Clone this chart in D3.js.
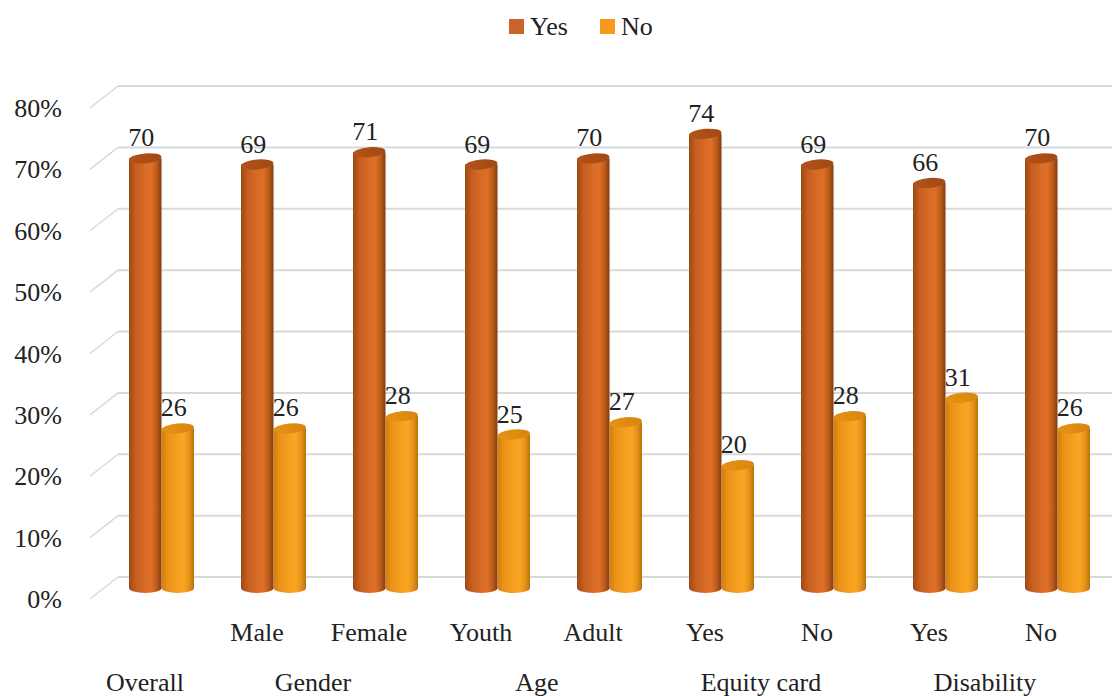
<!DOCTYPE html>
<html><head><meta charset="utf-8">
<script src="https://cdn.jsdelivr.net/npm/d3@7"></script>
<style>body{margin:0;background:#fff}svg{display:block}</style>
</head><body><svg id="c" width="1115" height="696"></svg>
<script>
const categories = ["Overall","Male","Female","Youth","Adult","Yes","No","Yes","No"];
const subLabels = ["","Male","Female","Youth","Adult","Yes","No","Yes","No"];
const groups = [{name:"Overall",from:0,to:0},{name:"Gender",from:1,to:2},{name:"Age",from:3,to:4},{name:"Equity card",from:5,to:6},{name:"Disability",from:7,to:8}];
const yesValues = [70,69,71,69,70,74,69,66,70];
const noValues  = [26,26,28,25,27,20,28,31,26];
const yTicks = [0,10,20,30,40,50,60,70,80];
const series = [{key:"Yes",values:yesValues},{key:"No",values:noValues}];

const svg = d3.select("#c");
const FONT = "'Liberation Serif', serif";
const txtColor = "#222";
const fs = 26;
const depthX = 28, depthY = 22;
const y = d3.scaleLinear().domain([0,80]).range([577,86]); // back wall
const x = d3.scaleBand().domain(d3.range(categories.length)).range([105,1113]);
const xs = d3.scaleBand().domain(["Yes","No"]).range([0,65]);
const defs = svg.append("defs");

function txt(sel){
  sel.attr("font-family","Liberation Serif").attr("font-size",fs).attr("fill",txtColor)
     .style("font-family",FONT).style("font-size",fs+"px").style("fill",txtColor);
}

function grad(id, stops){
  const g = defs.append("linearGradient").attr("id",id).attr("x1","0%").attr("x2","100%").attr("y1","0%").attr("y2","0%");
  stops.forEach(s=>g.append("stop").attr("offset",s[0]).attr("stop-color",s[1]));
}
grad("gYes",[["0%","#9c4814"],["20%","#c45e1f"],["55%","#dc6d27"],["70%","#dd6e28"],["88%","#b65718"],["100%","#7f3a0f"]]);
grad("gNo",[["0%","#d07d10"],["20%","#eb9419"],["55%","#f8a222"],["70%","#f9a424"],["88%","#e08c16"],["100%","#b8700b"]]);
grad("tYes",[["0%","#b2531a"],["100%","#a04a15"]]);
grad("tNo",[["0%","#e69216"],["100%","#d9860f"]]);
const colors = {Yes:"#c9652a", No:"#f7991d"};

// gridlines (back wall + diagonal side wall)
const grid = svg.append("g");
yTicks.forEach(t=>{
  grid.append("line").attr("x1",x.range()[0]+13).attr("x2",1112).attr("y1",y(t)).attr("y2",y(t))
    .attr("stroke","#d9d9d9").attr("stroke-width",2);
  grid.append("line").attr("x1",x.range()[0]+13).attr("y1",y(t)).attr("x2",x.range()[0]+13-depthX).attr("y2",y(t)+depthY)
    .attr("stroke","#d9d9d9").attr("stroke-width",1.5);
});
// y axis labels
svg.append("g").selectAll("text").data(yTicks).join("text")
  .attr("x",62).attr("y",t=>y(t)+depthY+9).attr("text-anchor","end").call(txt)
  .text(t=>t+"%");

// bars (cylinders) in mid plane
const midDy = depthY/2;
const bw = xs.bandwidth(), rx = bw/2, ry = 5;
const barsG = svg.append("g");
const labelsG = svg.append("g");
categories.forEach((c,i)=>{
  series.forEach(s=>{
    const v = s.values[i];
    const cx = x(i) + 24 + xs(s.key) + rx;
    const yb = y(0)+midDy, yt = y(v)+midDy;
    const g = barsG.append("g");
    g.append("ellipse").attr("cx",cx).attr("cy",yb).attr("rx",rx).attr("ry",ry).attr("fill",`url(#g${s.key})`);
    g.append("rect").attr("x",cx-rx).attr("y",yt).attr("width",bw).attr("height",yb-yt).attr("fill",`url(#g${s.key})`);
    g.append("ellipse").attr("cx",cx).attr("cy",yt).attr("rx",rx).attr("ry",ry)
      .attr("transform",`rotate(-5,${cx},${yt})`).attr("fill",`url(#t${s.key})`);
    labelsG.append("text").attr("x",cx-4).attr("y",yt-12).attr("text-anchor","middle").call(txt).text(v);
  });
});

// category labels
const labelShift = -16;
svg.append("g").selectAll("text").data(subLabels).join("text")
  .attr("x",(d,i)=>x(i)+x.bandwidth()/2+labelShift).attr("y",641).attr("text-anchor","middle").call(txt).text(d=>d);
svg.append("g").selectAll("text").data(groups).join("text")
  .attr("x",g=>(x(g.from)+x(g.to)+x.bandwidth())/2+labelShift).attr("y",691).attr("text-anchor","middle").call(txt).text(g=>g.name);

// legend
const leg = svg.append("g");
[{k:"Yes",x:509},{k:"No",x:600}].forEach(l=>{
  leg.append("rect").attr("x",l.x).attr("y",19).attr("width",15).attr("height",15).attr("fill",colors[l.k]);
  leg.append("text").attr("x",l.x+21).attr("y",35).call(txt).text(l.k);
});
</script></body></html>
